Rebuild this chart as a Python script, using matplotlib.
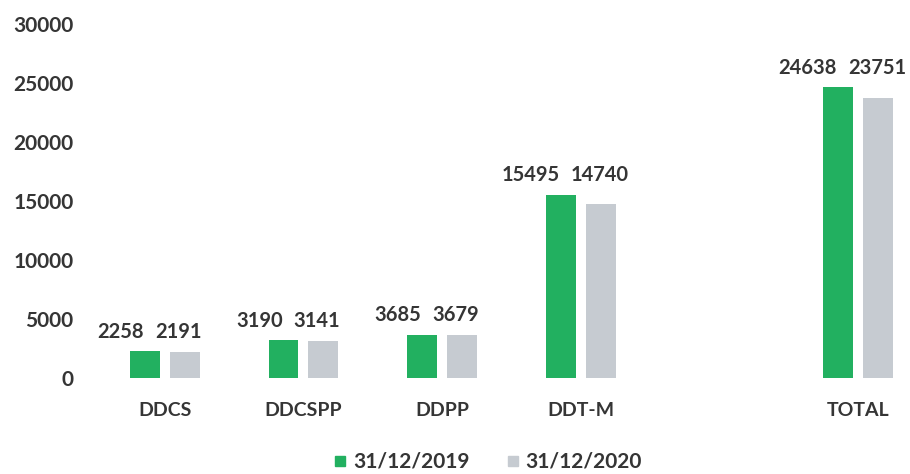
import matplotlib.pyplot as plt
from matplotlib.lines import Line2D

# data
categories = ["DDCS", "DDCSPP", "DDPP", "DDT-M", "TOTAL"]
slots = [0, 1, 2, 3, 5]          # an empty slot sits before TOTAL
values_2019 = [2258, 3190, 3685, 15495, 24638]
values_2020 = [2191, 3141, 3679, 14740, 23751]
series_labels = ["31/12/2019", "31/12/2020"]

green = "#22b060"
grey = "#c6cbd1"
text_col = "#353535"

plt.rcParams["font.family"] = ["Lato", "DejaVu Sans"]
plt.rcParams["font.weight"] = "bold"

fig = plt.figure(figsize=(9.1, 4.74), dpi=100)
ax = fig.add_axes([90 / 910, (474 - 378) / 474, (905 - 90) / 910, 354 / 474])

width = 0.216
offset = 0.144
x_green = [s - offset for s in slots]
x_grey = [s + offset for s in slots]

ax.bar(x_green, values_2019, width, color=green)
ax.bar(x_grey, values_2020, width, color=grey)

# value labels above each pair of bars
for s, a, b in zip(slots, values_2019, values_2020):
    top = max(a, b)
    ax.annotate(str(a), (s - 0.15, top), xytext=(0, 7), textcoords="offset points",
                ha="right", va="bottom", fontsize=14.5, fontweight="bold", color=text_col)
    ax.annotate(str(b), (s - 0.07, top), xytext=(0, 7), textcoords="offset points",
                ha="left", va="bottom", fontsize=14.5, fontweight="bold", color=text_col)

ax.set_xlim(-0.54, 5.34)
ax.set_ylim(0, 30000)
ax.set_yticks(range(0, 30001, 5000))
ax.set_xticks(slots)
ax.set_xticklabels(categories)

for spine in ax.spines.values():
    spine.set_visible(False)
ax.tick_params(axis="both", length=0, colors=text_col, labelsize=14)
ax.tick_params(axis="y", pad=12, labelsize=15)
ax.tick_params(axis="x", pad=17)
for lbl in ax.get_xticklabels() + ax.get_yticklabels():
    lbl.set_fontweight("bold")

# small square markers for the legend
handles = [Line2D([], [], ls="none", marker="s", markersize=6.5, color=c) for c in (green, grey)]
ax.legend(handles, series_labels, loc="center", bbox_to_anchor=(488 / 910, 12 / 474),
          bbox_transform=fig.transFigure, ncol=2, frameon=False, fontsize=15,
          handlelength=0.6, handletextpad=0.3, columnspacing=1.8, labelcolor=text_col)

fig.savefig("out.png", dpi=100)
